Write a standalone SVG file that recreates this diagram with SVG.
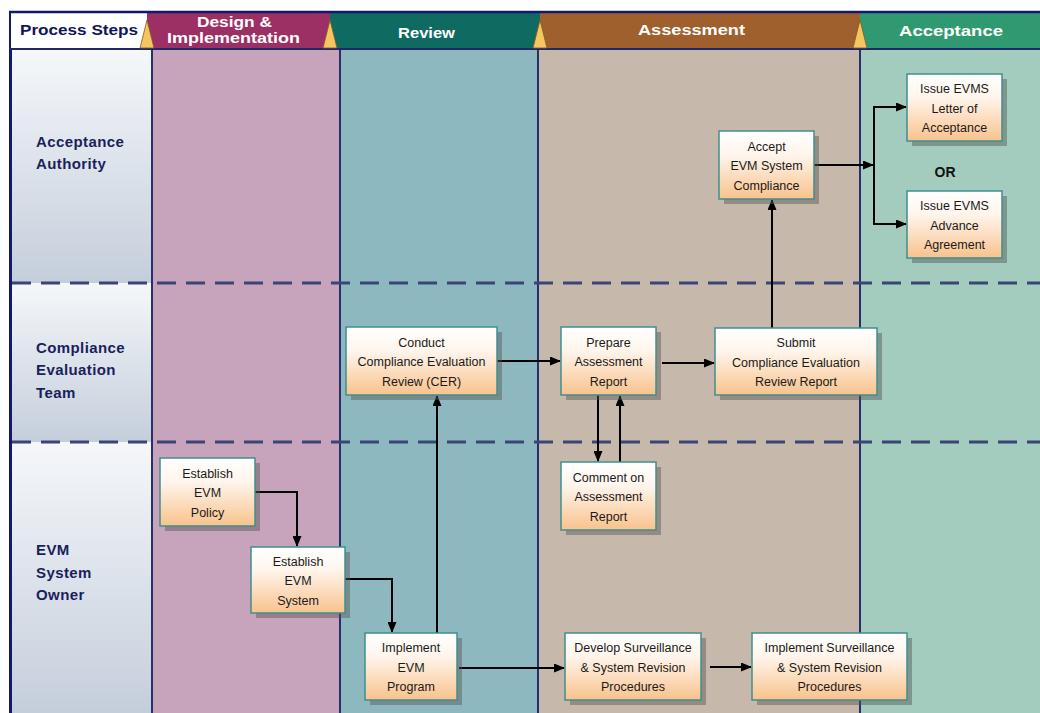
<svg xmlns="http://www.w3.org/2000/svg" width="1040" height="713" viewBox="0 0 1040 713">
<defs>
<linearGradient id="nodeGrad" x1="0" y1="0" x2="0" y2="1">
<stop offset="0" stop-color="#ffffff"/>
<stop offset="0.35" stop-color="#fff5ec"/>
<stop offset="1" stop-color="#f8c28c"/>
</linearGradient>
<linearGradient id="laneGrad" x1="0" y1="0" x2="0" y2="1">
<stop offset="0" stop-color="#f5f7fa"/>
<stop offset="1" stop-color="#c4cedb"/>
</linearGradient>
<marker id="arrow" markerUnits="userSpaceOnUse" markerWidth="11" markerHeight="9" refX="10" refY="4.5" orient="auto">
<path d="M0,0 L11,4.5 L0,9 z" fill="#000"/>
</marker>
<style>
.node rect.box{fill:url(#nodeGrad);stroke:#3f8f8f;stroke-width:1.5}
.node rect.shadow{fill:#555;opacity:0.45}
.node text{font-family:"Liberation Sans",Arial,sans-serif;font-size:12.5px;fill:#1a1a1a;text-anchor:middle}
.conn path{fill:none;stroke:#000;stroke-width:2}
.hdr{font-family:"Liberation Sans",Arial,sans-serif;font-weight:900;font-size:14.5px;fill:#ffffff}
.row{font-family:"Liberation Sans",Arial,sans-serif;font-weight:bold;font-size:15px;fill:#1a1f5c;letter-spacing:0.4px}
.vline{stroke:#26306c;stroke-width:2}
.dash{stroke:#3a4577;stroke-width:3;stroke-dasharray:19 10}
.tri{fill:#f7c462;stroke:#7a5a20;stroke-width:0.8}
</style>
</defs>
<rect x="0" y="0" width="1040" height="713" fill="#ffffff"/>

<g id="lanes">
<rect x="11" y="50" width="141" height="233" fill="url(#laneGrad)"/>
<rect x="11" y="283" width="141" height="159" fill="url(#laneGrad)"/>
<rect x="11" y="442" width="141" height="271" fill="url(#laneGrad)"/>
<rect x="152" y="50" width="188" height="663" fill="#c8a4bc"/>
<rect x="340" y="50" width="198" height="663" fill="#8eb8c0"/>
<rect x="538" y="50" width="322" height="663" fill="#c6b9ab"/>
<rect x="860" y="50" width="180" height="663" fill="#a3ccbf"/>
<line class="vline" x1="152" y1="49" x2="152" y2="713"/>
<line class="vline" x1="340" y1="49" x2="340" y2="713"/>
<line class="vline" x1="538" y1="49" x2="538" y2="713"/>
<line class="vline" x1="860" y1="49" x2="860" y2="713"/>
<line x1="10.5" y1="12" x2="10.5" y2="713" stroke="#14186a" stroke-width="3"/>
<line class="dash" x1="12" y1="283" x2="1040" y2="283"/>
<line class="dash" x1="12" y1="442" x2="1040" y2="442"/>
</g>

<g id="header">
<rect x="11" y="13" width="136" height="36" fill="#ffffff"/>
<rect x="147" y="13" width="183" height="36" fill="#9c3064"/>
<rect x="330" y="13" width="210" height="36" fill="#0f6a62"/>
<rect x="540" y="13" width="320" height="36" fill="#a0602e"/>
<rect x="860" y="13" width="180" height="36" fill="#2f9a72"/>
<line x1="9" y1="12" x2="1040" y2="12" stroke="#14186a" stroke-width="2.5"/>
<line x1="9" y1="49" x2="1040" y2="49" stroke="#1e2866" stroke-width="2"/>
<polygon class="tri" points="147,20 140,48 154,48"/>
<polygon class="tri" points="330,20 323,48 337,48"/>
<polygon class="tri" points="540,20 533,48 547,48"/>
<polygon class="tri" points="860,20 853,48 867,48"/>
<text x="20" y="35" class="hdr" style="fill:#10145a;font-size:15px" textLength="118" lengthAdjust="spacingAndGlyphs">Process Steps</text>
<text x="197" y="27" class="hdr" textLength="75" lengthAdjust="spacingAndGlyphs">Design &amp;</text>
<text x="167" y="43" class="hdr" textLength="133" lengthAdjust="spacingAndGlyphs">Implementation</text>
<text x="398" y="38" class="hdr" textLength="57" lengthAdjust="spacingAndGlyphs">Review</text>
<text x="638" y="35" class="hdr" textLength="107" lengthAdjust="spacingAndGlyphs">Assessment</text>
<text x="899" y="36" class="hdr" textLength="104" lengthAdjust="spacingAndGlyphs">Acceptance</text>
</g>

<g id="row-labels">
<text class="row" x="36" y="147">Acceptance</text>
<text class="row" x="36" y="169">Authority</text>
<text class="row" x="36" y="353">Compliance</text>
<text class="row" x="36" y="375">Evaluation</text>
<text class="row" x="36" y="398">Team</text>
<text class="row" x="36" y="555">EVM</text>
<text class="row" x="36" y="578">System</text>
<text class="row" x="36" y="600">Owner</text>
</g>

<g id="connectors" class="conn">
<path d="M255,492 H297 V546" marker-end="url(#arrow)"/>
<path d="M345,579 H392 V632" marker-end="url(#arrow)"/>
<path d="M437,633 V396" marker-end="url(#arrow)"/>
<path d="M459,668 H564" marker-end="url(#arrow)"/>
<path d="M710,667 H751" marker-end="url(#arrow)"/>
<path d="M497,361 H560" marker-end="url(#arrow)"/>
<path d="M662,363 H714" marker-end="url(#arrow)"/>
<path d="M598,395 V461" marker-end="url(#arrow)"/>
<path d="M620,462 V396" marker-end="url(#arrow)"/>
<path d="M772,328 V200" marker-end="url(#arrow)"/>
<path d="M814,165 H873" marker-end="url(#arrow)"/>
<path d="M874,165 V107 H906" marker-end="url(#arrow)"/>
<path d="M874,165 V224 H906" marker-end="url(#arrow)"/>
</g>

<text x="945" y="177" text-anchor="middle" font-family="'Liberation Sans',Arial,sans-serif" font-weight="bold" font-size="14" fill="#111">OR</text>

<g id="n-policy" class="node">
<rect class="shadow" x="165" y="463" width="95" height="68"/>
<rect class="box" x="160" y="458" width="95" height="68"/>
<text><tspan x="207.5" y="477.5">Establish</tspan><tspan x="207.5" y="497">EVM</tspan><tspan x="207.5" y="516.5">Policy</tspan></text>
</g>
<g id="n-system" class="node">
<rect class="shadow" x="256" y="552" width="94" height="66"/>
<rect class="box" x="251" y="547" width="94" height="66"/>
<text><tspan x="298" y="565.5">Establish</tspan><tspan x="298" y="585">EVM</tspan><tspan x="298" y="604.5">System</tspan></text>
</g>
<g id="n-program" class="node">
<rect class="shadow" x="370" y="638" width="92" height="67"/>
<rect class="box" x="365" y="633" width="92" height="67"/>
<text><tspan x="411" y="652">Implement</tspan><tspan x="411" y="671.5">EVM</tspan><tspan x="411" y="691">Program</tspan></text>
</g>
<g id="n-cer" class="node">
<rect class="shadow" x="351" y="332" width="151" height="68"/>
<rect class="box" x="346" y="327" width="151" height="68"/>
<text><tspan x="421.5" y="346.5">Conduct</tspan><tspan x="421.5" y="366">Compliance  Evaluation</tspan><tspan x="421.5" y="385.5">Review (CER)</tspan></text>
</g>
<g id="n-prepare" class="node">
<rect class="shadow" x="566" y="332" width="95" height="68"/>
<rect class="box" x="561" y="327" width="95" height="68"/>
<text><tspan x="608.5" y="346.5">Prepare</tspan><tspan x="608.5" y="366">Assessment</tspan><tspan x="608.5" y="385.5">Report</tspan></text>
</g>
<g id="n-comment" class="node">
<rect class="shadow" x="566" y="467" width="95" height="68"/>
<rect class="box" x="561" y="462" width="95" height="68"/>
<text><tspan x="608.5" y="481.5">Comment on</tspan><tspan x="608.5" y="501">Assessment</tspan><tspan x="608.5" y="520.5">Report</tspan></text>
</g>
<g id="n-submit" class="node">
<rect class="shadow" x="720" y="333" width="162" height="67"/>
<rect class="box" x="715" y="328" width="162" height="67"/>
<text><tspan x="796" y="347">Submit</tspan><tspan x="796" y="366.5">Compliance  Evaluation</tspan><tspan x="796" y="386">Review Report</tspan></text>
</g>
<g id="n-accept" class="node">
<rect class="shadow" x="724" y="136" width="95" height="68"/>
<rect class="box" x="719" y="131" width="95" height="68"/>
<text><tspan x="766.5" y="150.5">Accept</tspan><tspan x="766.5" y="170">EVM System</tspan><tspan x="766.5" y="189.5">Compliance</tspan></text>
</g>
<g id="n-letter" class="node">
<rect class="shadow" x="912" y="79" width="95" height="67"/>
<rect class="box" x="907" y="74" width="95" height="67"/>
<text><tspan x="954.5" y="93">Issue EVMS</tspan><tspan x="954.5" y="112.5">Letter of</tspan><tspan x="954.5" y="132">Acceptance</tspan></text>
</g>
<g id="n-advance" class="node">
<rect class="shadow" x="912" y="196" width="95" height="67"/>
<rect class="box" x="907" y="191" width="95" height="67"/>
<text><tspan x="954.5" y="210">Issue EVMS</tspan><tspan x="954.5" y="229.5">Advance</tspan><tspan x="954.5" y="249">Agreement</tspan></text>
</g>
<g id="n-develop" class="node">
<rect class="shadow" x="570" y="638" width="136" height="67"/>
<rect class="box" x="565" y="633" width="136" height="67"/>
<text><tspan x="633" y="652">Develop Surveillance</tspan><tspan x="633" y="671.5">&amp; System Revision</tspan><tspan x="633" y="691">Procedures</tspan></text>
</g>
<g id="n-implsurv" class="node">
<rect class="shadow" x="757" y="638" width="155" height="67"/>
<rect class="box" x="752" y="633" width="155" height="67"/>
<text><tspan x="829.5" y="652">Implement Surveillance</tspan><tspan x="829.5" y="671.5">&amp; System Revision</tspan><tspan x="829.5" y="691">Procedures</tspan></text>
</g>
</svg>
